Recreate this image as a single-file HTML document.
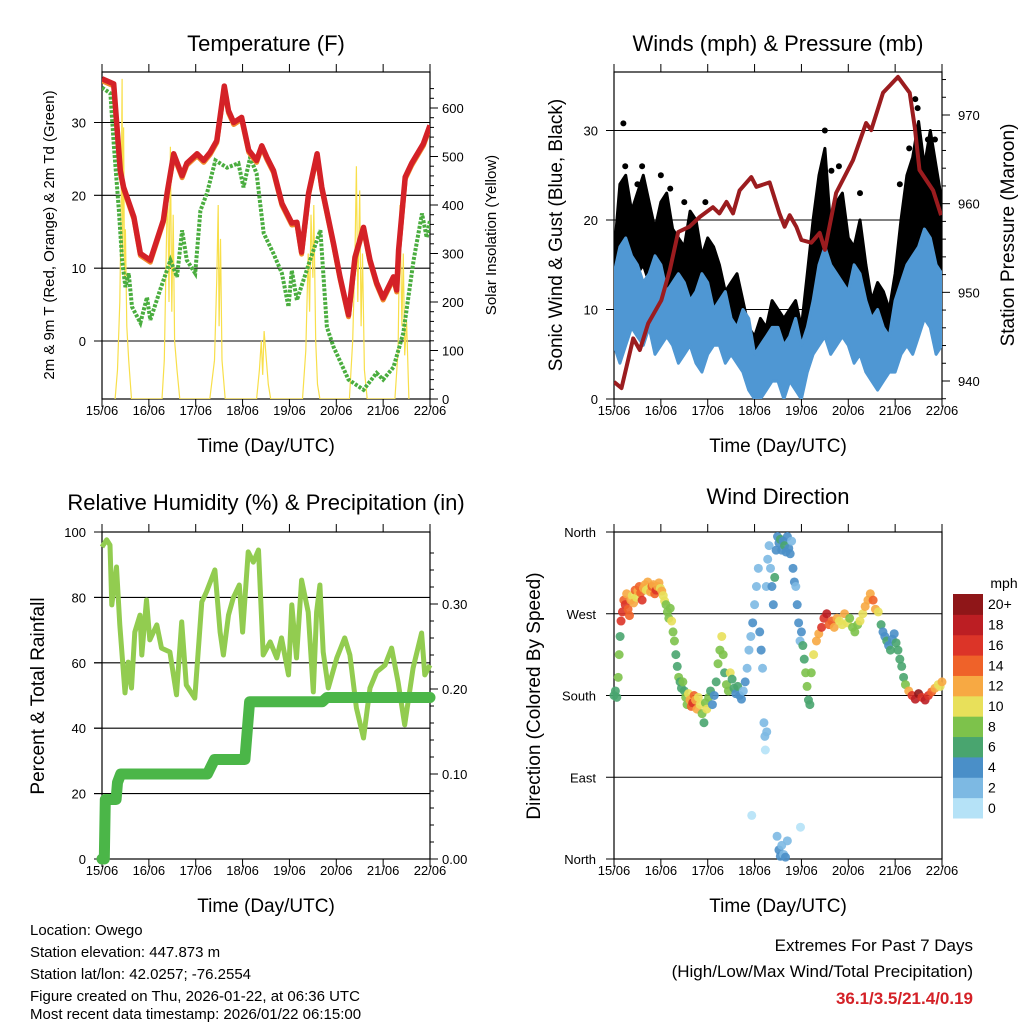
<!DOCTYPE html>
<html><head><meta charset="utf-8">
<style>
body{margin:0;background:#fff;}
svg text{font-family:"Liberation Sans",sans-serif;fill:#000;}
</style></head>
<body>
<svg id="fig" width="1024" height="1024" viewBox="0 0 1024 1024" xmlns="http://www.w3.org/2000/svg">
<rect width="1024" height="1024" fill="#fff"/>
<g id="p1"></g>
<g id="p2"></g>
<g id="p3"></g>
<g id="p4"></g>
<g font-size="15">
<text x="30" y="935">Location: Owego</text>
<text x="30" y="957">Station elevation: 447.873 m</text>
<text x="30" y="979">Station lat/lon: 42.0257; -76.2554</text>
<text x="30" y="1001">Figure created on Thu, 2026-01-22, at 06:36 UTC</text>
<text x="30" y="1019">Most recent data timestamp: 2026/01/22 06:15:00</text>
</g>
<g text-anchor="end">
<text x="973" y="951" font-size="17">Extremes For Past 7 Days</text>
<text x="973" y="977" font-size="17">(High/Low/Max Wind/Total Precipitation)</text>
<text x="973" y="1004" font-size="17" font-weight="bold" style="fill:#d42127">36.1/3.5/21.4/0.19</text>
</g>
</svg>
<script>
const dayLabels=["15/06","16/06","17/06","18/06","19/06","20/06","21/06","22/06"];
// Temperature
const tempT=[0,0.25,0.39,0.46,0.68,0.82,1.03,1.31,1.39,1.53,1.71,1.81,2.03,2.17,2.31,2.45,2.61,2.70,2.81,2.98,3.13,3.3,3.41,3.52,3.66,3.84,4.05,4.16,4.26,4.41,4.59,4.69,4.94,5.08,5.26,5.4,5.58,5.72,5.86,6.0,6.22,6.29,6.33,6.47,6.61,6.86,7.0];
const tempV=[36,35.3,23.4,21.1,17,12,11.1,16.6,20.3,25.7,22.7,24.4,25.7,24.8,25.9,27.5,35,31.6,30,30.7,26.2,24.8,26.8,25.2,23.4,18.9,16.2,16.3,12.2,20.3,25.7,21.1,13.4,8.8,3.6,11.5,15.6,11.1,8,5.9,8.8,7,12.5,22.5,24.4,27.1,29.6];
const dewT=[0,0.18,0.25,0.36,0.43,0.5,0.57,0.64,0.82,0.96,1.03,1.24,1.46,1.6,1.71,1.81,1.99,2.1,2.24,2.42,2.67,2.91,3.02,3.16,3.3,3.45,3.66,3.84,3.98,4.05,4.16,4.44,4.66,4.8,4.94,5.26,5.58,5.86,6.0,6.22,6.43,6.65,6.83,6.93,7.0];
const dewV=[34.8,34,27.1,17.9,11.1,7.4,9.3,4.7,2.5,6,2.9,7,11.1,8.8,15.2,11.1,9.3,17.9,20.3,24.8,23.8,24.4,21.1,25.2,23,14.8,12,9.3,4.7,9.7,5.6,11.1,15.2,1.9,-0.8,-5.3,-6.7,-4.4,-5.3,-3.6,1.1,11.1,17.5,14.2,16.6];
const solarT=[0.28,0.33,0.38,0.41,0.43,0.44,0.46,0.48,0.5,0.53,0.57,0.63,1.28,1.33,1.37,1.40,1.43,1.46,1.49,1.52,1.55,1.6,1.66,2.3,2.4,2.45,2.48,2.5,2.53,2.56,2.63,3.3,3.36,3.4,3.43,3.46,3.5,3.55,3.6,4.28,4.35,4.4,4.43,4.46,4.5,4.52,4.56,4.6,4.65,5.28,5.35,5.4,5.43,5.46,5.5,5.53,5.56,5.6,5.66,6.25,6.32,6.36,6.4,6.43,6.46,6.5,6.55];
const solarV=[0,60,200,400,660,300,560,250,350,150,80,0,0,80,300,450,200,520,180,380,120,60,0,0,80,250,400,150,330,80,0,0,60,120,50,140,90,30,0,0,100,300,180,380,250,400,120,30,0,0,120,300,480,200,430,150,300,60,0,0,100,400,150,300,90,160,0];
// Winds
const windT=[0,0.125,0.25,0.375,0.5,0.625,0.75,0.875,1,1.125,1.25,1.375,1.5,1.625,1.75,1.875,2,2.125,2.25,2.375,2.5,2.625,2.75,2.875,3,3.125,3.25,3.375,3.5,3.625,3.75,3.875,4,4.125,4.25,4.375,4.5,4.625,4.75,4.875,5,5.125,5.25,5.375,5.5,5.625,5.75,5.875,6,6.125,6.25,6.375,6.5,6.625,6.75,6.875,7];
const windHi=[14,17,18,16,15,13,14,16,15,12,13,14,13,11,12,14,13,10,11,12,9,8,10,9,5,6,7,8,8,6,7,9,6,8,11,15,17,15,14,13,12,15,14,11,9,10,8,7,11,13,15,16,17,19,18,15,14];
const windLo=[6,4,6,8,7,6,8,5,6,7,6,4,5,6,4,3,5,6,6,4,5,4,3,1,0,0,1,2,2,0,2,1,0,3,5,6,7,5,6,7,6,4,5,3,2,1,2,3,3,5,6,5,7,9,8,5,6];
const gustHi=[16,24,25,21,23,25,22,19,22,23,19,18,17,21,20,16,18,17,15,12,13,14,11,8,7,9,8,11,10,9,10,11,8,14,20,25,28,19,22,23,18,17,20,15,11,13,12,10,14,20,25,27,31,26,30,26,22];
const gustLo=[8,12,14,12,14,15,13,11,12,13,10,8,9,10,9,7,8,9,8,6,7,5,4,3,2,1,2,3,3,2,3,2,2,5,9,11,12,10,10,11,9,7,9,6,5,4,4,5,6,9,12,13,14,12,12,11,9];
const gustOutT=[0.2,0.24,0.5,1.2,1.95,4.42,4.64,6.43,6.48,6.1,6.7,0.6,1.0,1.5,4.5,4.8,5.25,6.3,6.85];
const gustOutV=[30.8,26,24,23.5,22,25,25.5,33.5,32.5,24,29,26,25,22,30,26,23,28,29];
const presT=[0,0.16,0.41,0.55,0.73,1.01,1.19,1.37,1.61,1.83,2.11,2.25,2.4,2.54,2.68,2.93,3.04,3.32,3.53,3.64,3.75,3.89,4.0,4.21,4.39,4.5,4.74,5.1,5.38,5.49,5.74,6.06,6.31,6.42,6.52,6.81,6.98];
const presV=[939.9,939.2,944.8,943.5,946.5,949.1,952.5,956.8,957.4,958.5,959.6,958.9,960.2,958.9,961.5,963,961.9,962.4,958.9,957.4,958.7,957.4,955.9,955.6,956.7,954.8,961.2,964.9,969.1,968.3,972.5,974.3,972.5,968.6,963.8,961.5,958.7];
// Humidity / precip
const rhT=[0,0.1,0.17,0.21,0.31,0.38,0.49,0.56,0.63,0.7,0.81,0.85,0.95,1.02,1.17,1.27,1.45,1.59,1.7,1.8,1.98,2.13,2.23,2.41,2.52,2.59,2.7,2.8,2.93,3.0,3.12,3.23,3.34,3.44,3.59,3.73,3.83,3.98,4.05,4.15,4.26,4.4,4.51,4.58,4.65,4.72,4.83,5.01,5.18,5.29,5.43,5.58,5.72,5.86,6.04,6.18,6.32,6.46,6.64,6.82,6.89,7.0];
const rhV=[95.4,97.6,96,77.7,89.3,71.6,50.8,60.2,52.3,69.4,74.6,62.4,79.2,67,71.6,64.5,63.3,50.2,72.5,53.2,49.2,78.6,81.7,88.4,69.4,62.4,74.6,79.8,83.8,69.4,93.9,90.8,94.5,62.4,66.4,61.5,67.6,56.3,77.7,61.5,85.3,75.5,51.1,75.5,83.8,63.3,52.3,61.5,67.6,62.4,46.2,37,52.3,57.2,59.3,64.5,54.1,41,58.4,69.1,56.3,59.3];
const prT=[0,0.05,0.07,0.3,0.33,0.4,2.25,2.4,3.05,3.15,4.7,4.8,7];
const prV=[0,0,0.07,0.07,0.09,0.1,0.1,0.117,0.117,0.185,0.185,0.19,0.19];
// Wind direction
const wdT=[0.00,0.03,0.06,0.09,0.11,0.13,0.15,0.18,0.21,0.24,0.27,0.30,0.33,0.36,0.39,0.42,0.45,0.48,0.51,0.54,0.57,0.60,0.63,0.66,0.69,0.72,0.75,0.78,0.81,0.84,0.87,0.90,0.93,0.96,0.99,1.02,1.05,1.08,1.11,1.14,1.17,1.20,1.23,1.26,1.29,1.32,1.35,1.38,1.41,1.44,1.47,1.50,1.53,1.56,1.59,1.62,1.65,1.68,1.71,1.74,1.77,1.80,1.84,1.88,1.92,1.95,1.98,2.02,2.06,2.10,2.14,2.18,2.22,2.26,2.30,2.33,2.36,2.40,2.44,2.48,2.52,2.56,2.60,2.64,2.68,2.72,2.76,2.80,2.84,2.88,2.92,2.96,3.00,3.04,3.08,3.11,3.14,3.17,3.20,3.22,3.25,3.28,3.31,3.34,3.37,3.40,3.43,3.46,3.49,3.52,3.55,3.58,3.61,3.64,3.67,3.70,3.73,3.76,3.79,3.82,3.85,3.88,3.91,3.94,3.97,4.00,4.03,4.06,4.09,4.12,4.15,4.18,4.21,4.26,4.32,4.37,4.43,4.48,4.54,4.59,4.65,4.70,4.76,4.81,4.87,4.92,4.98,5.03,5.09,5.14,5.20,5.25,5.31,5.36,5.42,5.47,5.53,5.58,5.64,5.70,5.74,5.78,5.82,5.86,5.90,5.94,5.98,6.02,6.06,6.10,6.14,6.18,6.22,6.29,6.36,6.43,6.50,6.57,6.64,6.71,6.78,6.85,6.92,6.96,7.00,3.48,3.52,3.55,3.58,3.62,3.66,3.70,2.94,3.98,3.23,3.26];
const wdDir=[180,185,178,200,225,245,262,272,285,280,292,275,268,285,290,282,296,288,295,300,293,285,298,302,296,305,298,294,300,302,292,296,300,304,298,295,290,284,280,272,265,276,262,250,240,225,212,200,195,188,195,185,178,170,182,175,168,172,180,175,165,178,170,160,150,172,165,178,185,170,180,195,215,230,245,225,205,192,185,205,198,188,182,190,180,176,185,195,210,230,245,260,280,300,320,250,230,210,150,135,300,330,345,320,300,280,310,340,355,348,352,340,350,345,338,355,342,336,350,320,305,300,280,260,240,250,235,220,205,190,175,170,205,225,240,248,255,265,270,258,262,255,265,262,258,270,260,265,255,250,258,262,270,278,285,292,285,275,272,258,250,245,240,235,230,242,248,238,230,220,212,200,192,185,180,176,182,178,175,180,184,188,192,190,195,25,10,3,15,5,2,20,48,35,120,140];
const wdSpd=[6,7,7,8,9,7,16,17,15,16,13,14,15,12,11,13,14,10,12,15,14,16,13,12,11,12,10,12,14,13,15,16,13,12,11,12,11,10,9,8,9,8,10,9,8,7,6,8,7,6,8,7,9,8,10,13,15,17,14,12,12,10,11,8,7,9,10,9,6,5,4,6,8,9,10,8,7,8,9,10,6,7,5,6,5,4,3,4,3,2,3,4,3,2,3,4,4,3,2,3,3,2,3,2,4,5,6,5,4,5,6,5,4,6,5,4,5,4,3,4,4,3,4,4,3,4,6,7,9,8,6,6,9,10,12,13,16,17,18,15,14,13,12,10,11,12,10,9,8,9,8,10,11,12,13,12,14,13,10,6,5,4,6,5,6,4,5,6,7,6,7,7,8,12,16,18,20,17,19,16,14,12,10,10,12,3,4,4,2,3,5,2,1,1,1,2];
const cbLabels=["0","2","4","6","8","10","12","14","16","18","20+"];
const cbColors=["#b5e2f7","#7db9e3","#4a8fc8","#49a56f","#7dc24b","#e8e05a","#f7a943","#ef6229","#dc3428","#bc1e23","#8f1618"];

const NS="http://www.w3.org/2000/svg";
function mk(parent,tag,attrs){const e=document.createElementNS(NS,tag);for(const k in attrs)e.setAttribute(k,attrs[k]);parent.appendChild(e);return e;}
function txt(parent,x,y,s,size,anchor,rot){const e=mk(parent,"text",{x:x,y:y,"font-size":size,"text-anchor":anchor||"middle"});if(rot)e.setAttribute("transform","rotate(-90 "+x+" "+y+")");e.textContent=s;return e;}
function pathD(ts,vs,sx,sy){return ts.map((t,i)=>(i?"L":"M")+sx(t).toFixed(1)+" "+sy(vs[i]).toFixed(1)).join(" ");}
function lin(d0,d1,r0,r1){return v=>r0+(v-d0)/(d1-d0)*(r1-r0);}

function frame(g,L,R,T,B,title,titleY,xLabel){
  mk(g,"rect",{x:L,y:T,width:R-L,height:B-T,fill:"none",stroke:"#000","stroke-width":1.2});
  const sx=lin(0,7,L,R);
  for(let d=0;d<=7;d++){
    const x=sx(d);
    const tk=mk(g,"line",{x1:x,y1:B,x2:x,y2:B+8,stroke:"#000","stroke-width":1});
    
    
    mk(g,"line",{x1:x,y1:T,x2:x,y2:T-8,stroke:"#000","stroke-width":1});
    const lb=txt(g,x,B+16,dayLabels[d],13);
    
    
  }
  const tt=txt(g,(L+R)/2,titleY,title,22);
  
  
  const xl=txt(g,(L+R)/2,B+53,xLabel,19);
  
  
  return sx;
}
function grid(g,L,R,ys,ext){ys.forEach(y=>{mk(g,"line",{x1:L-(ext||0),y1:y,x2:R,y2:y,stroke:"#000","stroke-width":1.1});});}

// Panel 1
(function(){
  const g=document.getElementById("p1");
  const L=102,R=430,T=72,B=399;
  const sy=lin(0,30,341,122.5), ss=lin(0,600,399,108);
  const sx=frame(g,L,R,T,B,"Temperature (F)",51,"Time (Day/UTC)");
  grid(g,L,R,[0,10,20,30].map(sy),8);
  [0,10,20,30].forEach(v=>{const t=txt(g,L-16,sy(v)+5,String(v),13,"end");});
  [0,100,200,300,400,500,600].forEach(v=>{mk(g,"line",{x1:R,y1:ss(v),x2:R+8,y2:ss(v),stroke:"#000"});const t=txt(g,R+12,ss(v)+5,String(v),13,"start");});
  for(let v=20;v<660;v+=20){if(v%100)mk(g,"line",{x1:R,y1:ss(v),x2:R+4,y2:ss(v),stroke:"#000"});}
  const yl=txt(g,54,235,"2m & 9m T (Red, Orange) & 2m Td (Green)",15,"middle",true);
  const yr=txt(g,496,235,"Solar Insolation (Yellow)",15,"middle",true);
  const cp=mk(g,"clipPath",{id:"c1"});mk(cp,"rect",{x:L,y:T,width:R-L,height:B-T});
  const inner=mk(g,"g",{"clip-path":"url(#c1)"});
  const sol=mk(inner,"path",{d:pathD(solarT,solarV,sx,ss),fill:"none",stroke:"#f8df4a","stroke-width":1.2});
  
  const dew=mk(inner,"path",{d:pathD(dewT,dewV,sx,sy),fill:"none",stroke:"#4aad3f","stroke-width":4,"stroke-dasharray":"3 1.5"});
  
  const or=mk(inner,"path",{d:pathD(tempT,tempV,sx,v=>sy(v)+2),fill:"none",stroke:"#f08a2c","stroke-width":5,"stroke-linejoin":"round"});
  
  const rd=mk(inner,"path",{d:pathD(tempT,tempV,sx,sy),fill:"none",stroke:"#d42127","stroke-width":5.5,"stroke-linejoin":"round"});
  
})();

// Panel 2
(function(){
  const g=document.getElementById("p2");
  const L=614,R=942,T=72,B=399;
  const sy=lin(0,30,399,130.5), sp=lin(940,970,381,115);
  const sx=frame(g,L,R,T,B,"Winds (mph) & Pressure (mb)",51,"Time (Day/UTC)");
  grid(g,L,R,[10,20,30].map(sy),8);
  [0,10,20,30].forEach(v=>{mk(g,"line",{x1:L-8,y1:sy(v),x2:L,y2:sy(v),stroke:"#000"});const t=txt(g,L-16,sy(v)+5,String(v),13,"end");});
  [940,950,960,970].forEach(v=>{mk(g,"line",{x1:R,y1:sp(v),x2:R+8,y2:sp(v),stroke:"#000"});const t=txt(g,R+16,sp(v)+5,String(v),13,"start");});
  for(let v=938;v<976;v+=2){if(v%10)mk(g,"line",{x1:R,y1:sp(v),x2:R+4,y2:sp(v),stroke:"#000"});}
  const yl=txt(g,562,235,"Sonic Wind & Gust (Blue, Black)",19,"middle",true);
  const yr=txt(g,1014,235,"Station Pressure (Maroon)",19,"middle",true);
  const cp=mk(g,"clipPath",{id:"c2"});mk(cp,"rect",{x:L,y:T,width:R-L,height:B-T});
  const inner=mk(g,"g",{"clip-path":"url(#c2)"});
  const band=(hi,lo,col,name)=>{const d=pathD(windT,hi,sx,sy)+" "+windT.slice().reverse().map((t,i)=>"L"+sx(t).toFixed(1)+" "+sy(lo[lo.length-1-i]).toFixed(1)).join(" ")+"Z";const p=mk(inner,"path",{d:d,fill:col,stroke:col,"stroke-width":3,"stroke-linejoin":"round"});};
  band(gustHi,gustLo,"#000","gust-band");
  gustOutT.forEach((t,i)=>{const c=mk(inner,"circle",{cx:sx(t),cy:sy(gustOutV[i]),r:3,fill:"#000"});});
  band(windHi,windLo,"#4f97d3","wind-band");
  const pl=mk(inner,"path",{d:pathD(presT,presV,sx,sp),fill:"none",stroke:"#9b1c1f","stroke-width":4,"stroke-linejoin":"round"});
  
})();

// Panel 3
(function(){
  const g=document.getElementById("p3");
  const L=102,R=430,T=532,B=859;
  const sy=lin(0,100,859,532), sp=lin(0,0.3,859,604);
  const sx=frame(g,L,R,T,B,"Relative Humidity (%) & Precipitation (in)",510,"Time (Day/UTC)");
  grid(g,L,R,[20,40,60,80].map(sy),8);
  [0,20,40,60,80,100].forEach(v=>{mk(g,"line",{x1:L-8,y1:sy(v),x2:L,y2:sy(v),stroke:"#000"});const t=txt(g,L-16,sy(v)+5,String(v),13,"end");});
  ["0.00","0.10","0.20","0.30"].forEach((s,i)=>{const y=sp(i*0.1);mk(g,"line",{x1:R,y1:y,x2:R+8,y2:y,stroke:"#000"});const t=txt(g,R+12,y+5,s,13,"start");});
  for(let v=0.02;v<0.38;v+=0.02){mk(g,"line",{x1:R,y1:sp(v),x2:R+4,y2:sp(v),stroke:"#000"});}
  const yl=txt(g,44,696,"Percent & Total Rainfall",19,"middle",true);
  const rh=mk(g,"path",{d:pathD(rhT,rhV,sx,sy),fill:"none",stroke:"#92cc50","stroke-width":5,"stroke-linejoin":"round"});
  
  const pr=mk(g,"path",{d:pathD(prT,prV,sx,sp),fill:"none",stroke:"#4bb648","stroke-width":11,"stroke-linejoin":"round","stroke-linecap":"round"});
  
})();

// Panel 4
(function(){
  const g=document.getElementById("p4");
  const L=614,R=942,T=532,B=859;
  const sy=lin(0,360,859,532);
  const sx=frame(g,L,R,T,B,"Wind Direction",504,"Time (Day/UTC)");
  grid(g,L,R,[0,90,180,270,360].map(sy),8);
  const dl=["North","East","South","West","North"];
  [0,90,180,270,360].forEach((v,i)=>{const t=txt(g,L-18,sy(v)+5,dl[i],13,"end");});
  const yl=txt(g,540,696,"Direction (Colored By Speed)",19,"middle",true);
  const col=s=>cbColors[Math.min(10,Math.floor(s/2))];
  wdT.forEach((t,i)=>{
    const c=mk(g,"circle",{cx:sx(t),cy:sy(wdDir[i]),r:4.5,fill:col(wdSpd[i]),"fill-opacity":0.9});
    
    
  });
  const cb=mk(g,"g",{});
  
  
  const h=224/11;
  cbColors.forEach((c,i)=>{const y=818-(i+1)*h;mk(cb,"rect",{x:953,y:y,width:30,height:h+0.5,fill:c});const t=txt(cb,988,y+h/2+5,cbLabels[i],14,"start");});
  const m=txt(cb,1004,588,"mph",14);
})();
</script>
</body></html>
